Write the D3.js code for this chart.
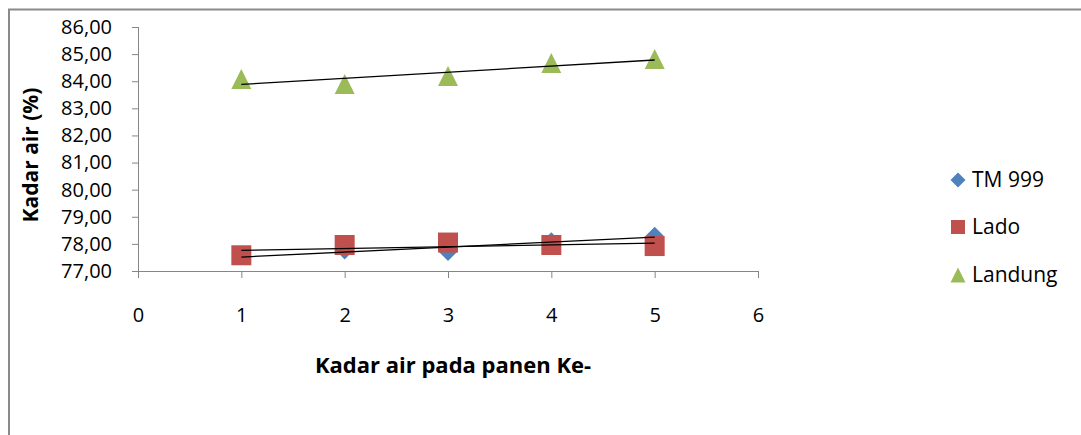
<!DOCTYPE html>
<html>
<head>
<meta charset="utf-8">
<script src="https://cdn.jsdelivr.net/npm/d3@7"></script>
<style>
  body { margin: 0; background: #fff; }
  text { font-family: "Open Sans", "Noto Sans", sans-serif; fill: #000; }
</style>
</head>
<body>
<div id="chart"></div>
<script>
// panen ke-
var panen = [1, 2, 3, 4, 5];

// kadar air (%) tiap varietas
var tm999 = [77.55, 77.76, 77.70, 78.10, 78.30];
var lado = [77.58, 77.96, 78.05, 77.96, 77.92];
var landung = [84.08, 83.90, 84.19, 84.67, 84.82];

var seriesNames = ["TM 999", "Lado", "Landung"];
var yTicks = [77, 78, 79, 80, 81, 82, 83, 84, 85, 86];
var xTicks = [0, 1, 2, 3, 4, 5, 6];

var W = 1081, H = 435;
var margin = {top: 27, left: 138, right: 323, bottom: 164};
var width = W - margin.left - margin.right,
    height = H - margin.top - margin.bottom;

var svg = d3.select("#chart")
  .append("svg")
    .attr("width", W)
    .attr("height", H);

// chart frame (only top and left edges are inside the picture)
svg.append("path")
  .attr("d", "M9," + H + "V9.5H" + W)
  .attr("fill", "none")
  .attr("stroke", "#8a8a8a")
  .attr("stroke-width", 2);

var g = svg.append("g")
  .attr("transform", "translate(" + margin.left + "," + margin.top + ")");

var x = d3.scaleLinear().domain([0, 6]).range([0, width]);
var y = d3.scaleLinear().domain([77, 86]).range([height, 0]);

var fmt = function(d) { return d3.format(".2f")(d).replace(".", ","); };

// axes
var yAxis = g.append("g")
  .call(d3.axisLeft(y).tickValues(yTicks).tickFormat(fmt).tickSize(6).tickPadding(20));
var xAxis = g.append("g")
  .attr("transform", "translate(0," + height + ")")
  .call(d3.axisBottom(x).tickValues(xTicks).tickFormat(d3.format("d")).tickSize(7).tickPadding(30));

[yAxis, xAxis].forEach(function(a) {
  a.select(".domain").attr("stroke", "#868686");
  a.selectAll(".tick line").attr("stroke", "#868686");
  a.selectAll(".tick text")
    .style("font-family", "'Open Sans', sans-serif")
    .style("font-size", "20px")
    .attr("fill", "#000");
});
// domain without end caps
yAxis.select(".domain").attr("d", "M0.5," + height + "V0");
xAxis.select(".domain").attr("d", "M0," + 0.5 + "H" + width);

// axis titles
svg.append("text")
  .attr("transform", "translate(38,155) rotate(-90)")
  .style("text-anchor", "middle")
  .style("font-size", "21px")
  .style("font-weight", "bold")
  .text("Kadar air (%)");

svg.append("text")
  .attr("x", 453).attr("y", 373)
  .style("text-anchor", "middle")
  .style("font-size", "22px")
  .style("font-weight", "bold")
  .text("Kadar air pada panen Ke-");

var colors = ["#4F81BD", "#C0504D", "#9BBB59"];
var data = [tm999, lado, landung];

// marker shapes: diamond (rhombus), square, triangle, centred on their box
function marker(i, s) {
  if (i === 0) return "M0," + (-s) + "L" + s + ",0L0," + s + "L" + (-s) + ",0Z";
  if (i === 1) return "M" + (-s) + "," + (-s) + "H" + s + "V" + s + "H" + (-s) + "Z";
  return "M0," + (-s) + "L" + s + "," + s + "L" + (-s) + "," + s + "Z";
}
var plotSize = [9, 10, 10];
var legendSize = [7.5, 7, 7.5];

// markers
data.forEach(function(vals, i) {
  g.selectAll(".m" + i)
    .data(panen.map(function(p, k) { return {x: p, y: vals[k]}; }))
    .enter()
    .append("path")
      .attr("d", marker(i, plotSize[i]))
      .attr("transform", function(d) { return "translate(" + x(d.x) + "," + y(d.y) + ")"; })
      .attr("fill", colors[i]);
});

// linear trendlines (least squares of each series)
function trend(vals) {
  var mx = d3.mean(panen), my = d3.mean(vals);
  var sxy = d3.sum(panen, function(p, k) { return (p - mx) * (vals[k] - my); });
  var sxx = d3.sum(panen, function(p) { return (p - mx) * (p - mx); });
  var b = sxy / sxx, a = my - b * mx;
  return [{x: panen[0], y: a + b * panen[0]}, {x: panen[panen.length - 1], y: a + b * panen[panen.length - 1]}];
}
var line = d3.line().x(function(d) { return x(d.x); }).y(function(d) { return y(d.y); });
data.forEach(function(vals) {
  g.append("path")
    .datum(trend(vals))
    .attr("d", line)
    .attr("fill", "none")
    .attr("stroke", "#000")
    .attr("stroke-width", 1.3);
});

// legend
var legendY = [180, 227, 275];
seriesNames.forEach(function(name, i) {
  svg.append("path")
    .attr("d", marker(i, legendSize[i]))
    .attr("transform", "translate(958," + legendY[i] + ")")
    .attr("fill", colors[i]);
  svg.append("text")
    .attr("x", 972).attr("y", legendY[i])
    .attr("dy", "0.35em")
    .style("font-size", "21px")
    .text(name);
});
</script>
</body>
</html>
